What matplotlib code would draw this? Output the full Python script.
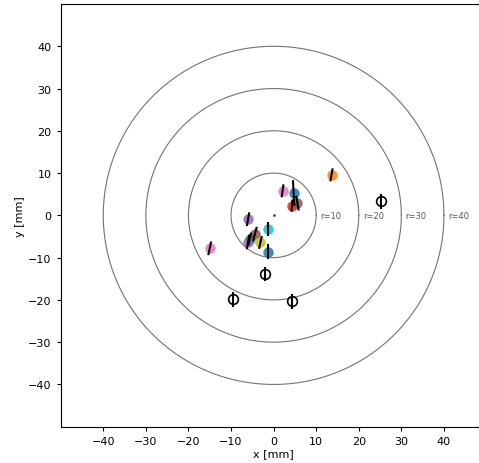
import numpy as np
import matplotlib
matplotlib.use("Agg")
import matplotlib.pyplot as plt

# ring radii
radii = [10, 20, 30, 40]

# coloured shots
xs = [2.1, 4.7, 4.3, 5.6, -6.0, -1.4, -5.6, -6.0, -4.4, -3.1, -1.3, -15.0, 13.6]
ys = [5.8, 5.3, 2.3, 2.9, -0.9, -3.3, -5.6, -6.3, -4.4, -6.4, -8.6, -7.8, 9.6]
cols = ["tab:pink", "tab:blue", "tab:red", "tab:brown", "tab:purple", "tab:cyan",
        "tab:green", "tab:purple", "tab:brown", "tab:olive", "tab:blue", "tab:pink",
        "tab:orange"]
seg_len = [1.3, 2.8, 1.2, 1.5, 1.4, 1.4, 1.3, 1.5, 1.5, 1.3, 1.5, 1.4, 1.3]
seg_ang = [-8, 3, -4, 10, -10, 0, -12, -10, -15, -12, 0, -12, -10]

# hollow (reference) shots
hx = [-2.1, -9.6, 4.4, 25.2]
hy = [-13.9, -19.9, -20.3, 3.3]
h_len = [1.5, 1.5, 1.5, 1.5]

fig = plt.figure(figsize=(4.79, 4.64), dpi=100)
ax = fig.add_axes([0.1267, 0.0782, 0.889, 0.911])
ax.set_xlim(-50, 50)
ax.set_ylim(-50, 50)

t = np.linspace(0, 2 * np.pi, 400)
for r in radii:
    ax.plot(r * np.cos(t), r * np.sin(t), color="0.45", lw=0.8, zorder=1)
    ax.text(r + 1, 0, f"r={r}", fontsize=6, color="0.35", ha="left", va="center")

ax.plot([0], [0], marker=".", ms=2, color="0.3", zorder=2)

for x, y, c, L, a in zip(xs, ys, cols, seg_len, seg_ang):
    ax.plot([x], [y], "o", color=c, ms=7.5, alpha=0.85, mec="none", zorder=3)
    ang = np.deg2rad(90 + a)
    dx, dy = L * np.cos(ang), L * np.sin(ang)
    ax.plot([x - dx, x + dx], [y - dy, y + dy], color="black", lw=1.5, zorder=4)

for x, y, L in zip(hx, hy, h_len):
    ax.plot([x], [y], "o", mfc="none", mec="black", ms=7, mew=1.2, zorder=3)
    ax.plot([x, x], [y - L, y + L], color="black", lw=1.5, zorder=4)

ax.set_xticks([-40, -30, -20, -10, 0, 10, 20, 30, 40])
ax.set_yticks([-40, -30, -20, -10, 0, 10, 20, 30, 40])
ax.tick_params(labelsize=8, length=3)
ax.set_xlabel("x [mm]", fontsize=8, labelpad=2)
ax.set_ylabel("y [mm]", fontsize=8, labelpad=2)

fig.savefig("out.png", dpi=100)
